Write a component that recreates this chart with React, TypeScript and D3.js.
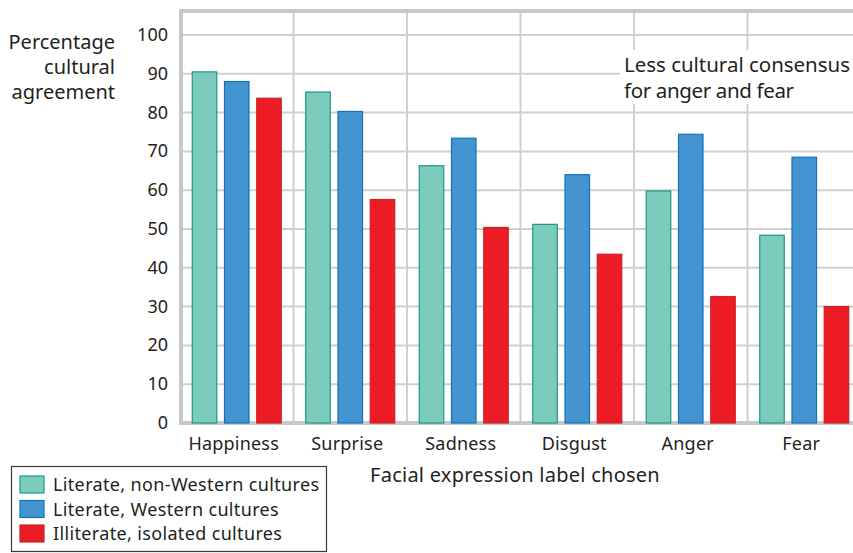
import { useEffect, useRef } from 'react'
import * as d3 from 'd3'

const categories = ['Happiness', 'Surprise', 'Sadness', 'Disgust', 'Anger', 'Fear']
const seriesNames = ['Literate, non-Western cultures', 'Literate, Western cultures', 'Illiterate, isolated cultures']
const nonWestern = [90.5, 85.3, 66.3, 51.2, 59.8, 48.4]
const western = [88, 80.3, 73.4, 64, 74.4, 68.5]
const illiterate = [83.7, 57.6, 50.4, 43.5, 32.6, 30]
const yTicks = [0, 10, 20, 30, 40, 50, 60, 70, 80, 90, 100]
const noteLines = ['Less cultural consensus', 'for anger and fear']
const noteWidths = [226, 170]

const fills = ['#7dcbbd', '#4394d1', '#ed1c24']
const strokes = ['#17998a', '#1172b6', '#c9232b']
const textColor = '#231f20'
const gridColor = '#cfcfd0'
const font = '"Noto Sans", sans-serif'

export default function App() {
  const svgRef = useRef<SVGSVGElement>(null)

  useEffect(() => {
    if (!svgRef.current) return
    const svg = d3.select(svgRef.current)
    svg.selectAll('*').remove()

    const left = 180
    const right = 861
    const top = 11
    const bottom = 423

    const x = d3.scaleBand().domain(categories).range([left, right])
    const inner = d3.scaleBand().domain(seriesNames).range([0, x.bandwidth()]).paddingInner(0.24).paddingOuter(0.38)
    const y = d3.scaleLinear().domain([0, 100]).range([bottom, 35])

    // horizontal grid
    svg.append('g').selectAll('line')
      .data(yTicks.filter(d => d > 0))
      .join('line')
      .attr('x1', left).attr('x2', 853)
      .attr('y1', d => y(d)).attr('y2', d => y(d))
      .attr('stroke', gridColor).attr('stroke-width', 2)

    // vertical grid
    svg.append('g').selectAll('line')
      .data(categories.slice(1))
      .join('line')
      .attr('x1', d => x(d)!).attr('x2', d => x(d)!)
      .attr('y1', top).attr('y2', bottom)
      .attr('stroke', gridColor).attr('stroke-width', 2)

    // frame
    svg.append('path')
      .attr('d', `M853,${top} H${left + 1} V${bottom} H853`)
      .attr('fill', 'none').attr('stroke', '#c8c8c9').attr('stroke-width', 4)

    // annotation background
    svg.append('rect')
      .attr('x', 620).attr('y', 50).attr('width', 240).attr('height', 54)
      .attr('fill', '#fff')

    // bars
    const allSeries = [nonWestern, western, illiterate]
    allSeries.forEach((vals, si) => {
      svg.append('g').selectAll('rect')
        .data(vals)
        .join('rect')
        .attr('x', (_, i) => x(categories[i])! + inner(seriesNames[si])!)
        .attr('y', d => y(d))
        .attr('width', inner.bandwidth())
        .attr('height', d => y(0) - y(d))
        .attr('fill', fills[si])
        .attr('stroke', strokes[si]).attr('stroke-width', 1.2)
    })

    // y tick labels
    svg.append('g').selectAll('text')
      .data(yTicks)
      .join('text')
      .attr('x', 168).attr('y', d => y(d) + 6)
      .attr('text-anchor', 'end')
      .attr('font-family', font).attr('font-size', 18).attr('fill', textColor)
      .text(d => d)

    // category labels
    svg.append('g').selectAll('text')
      .data(categories)
      .join('text')
      .attr('x', d => x(d)! + x.bandwidth() / 2 - 3).attr('y', 450)
      .attr('text-anchor', 'middle')
      .attr('font-family', font).attr('font-size', 18).attr('fill', textColor)
      .attr('letter-spacing', 0.2)
      .text(d => d)

    // y axis title
    const yt = svg.append('text')
      .attr('text-anchor', 'end')
      .attr('font-family', font).attr('font-size', 20).attr('fill', textColor)
    ;['Percentage', 'cultural', 'agreement'].forEach((s, i) => {
      yt.append('tspan').attr('x', 115).attr('y', 49 + i * 25).text(s)
    })

    // x axis title
    svg.append('text')
      .attr('x', 515).attr('y', 482)
      .attr('text-anchor', 'middle')
      .attr('font-family', font).attr('font-size', 20).attr('fill', textColor)
      .attr('letter-spacing', 0.25)
      .text('Facial expression label chosen')

    // annotation
    noteLines.forEach((s, i) => {
      svg.append('text')
        .attr('x', 624).attr('y', 72 + i * 25.5)
        .attr('font-family', font).attr('font-size', 20.5).attr('fill', textColor)
        .attr('textLength', noteWidths[i]).attr('lengthAdjust', 'spacing')
        .text(s)
    })

    // legend
    const lg = svg.append('g')
    lg.append('rect')
      .attr('x', 11.5).attr('y', 466.5).attr('width', 315).attr('height', 85)
      .attr('fill', '#fff').attr('stroke', '#3a3a3a').attr('stroke-width', 1.2)
    seriesNames.forEach((name, i) => {
      const yy = 476 + i * 24.5
      lg.append('rect')
        .attr('x', 20).attr('y', yy).attr('width', 24).attr('height', 17)
        .attr('fill', fills[i]).attr('stroke', strokes[i]).attr('stroke-width', 1.2)
      lg.append('text')
        .attr('x', 53).attr('y', yy + 15)
        .attr('font-family', font).attr('font-size', 18).attr('fill', textColor)
        .attr('letter-spacing', 0.35)
        .text(name)
    })
  }, [])

  return (
    <svg ref={svgRef} width={853} height={553}
      style={{ position: 'absolute', left: 0, top: 0, background: '#fff' }} />
  )
}
